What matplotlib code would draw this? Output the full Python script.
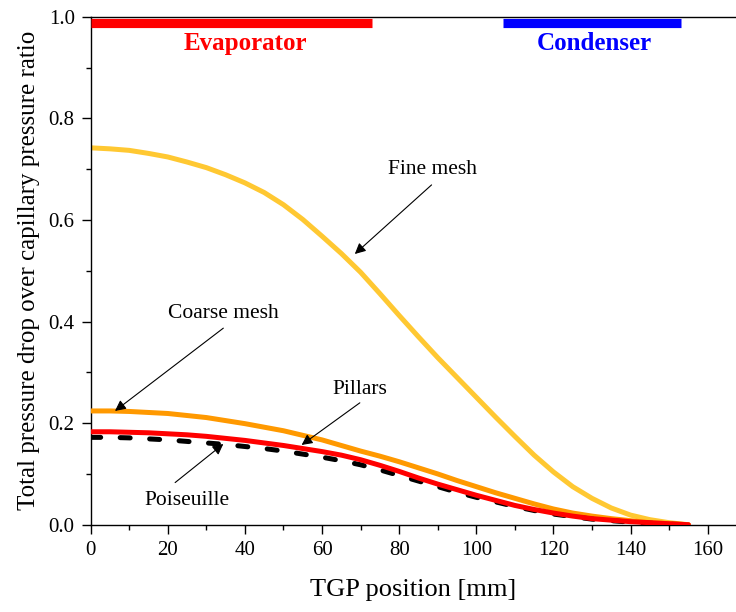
import numpy as np
import matplotlib
matplotlib.use('Agg')
import matplotlib.pyplot as plt

plt.rcParams['font.family'] = ['Liberation Serif', 'DejaVu Serif']

# TGP position [mm]
x = [0, 5, 10, 15, 20, 25, 30, 35, 40, 45, 50, 55, 60, 65, 70, 75, 80,
     85, 90, 95, 100, 105, 110, 115, 120, 125, 130, 135, 140, 145, 150, 155]

fine_mesh = [0.742, 0.740, 0.737, 0.731, 0.724, 0.714, 0.703, 0.689, 0.673, 0.654,
             0.630, 0.601, 0.568, 0.534, 0.497, 0.455, 0.412, 0.370, 0.329, 0.290,
             0.251, 0.212, 0.174, 0.137, 0.104, 0.075, 0.052, 0.033, 0.019, 0.010,
             0.004, 0.0]
coarse_mesh = [0.224, 0.224, 0.223, 0.221, 0.219, 0.215, 0.211, 0.205, 0.199, 0.192,
               0.185, 0.176, 0.167, 0.156, 0.145, 0.135, 0.124, 0.112, 0.100, 0.087,
               0.075, 0.063, 0.052, 0.041, 0.031, 0.023, 0.017, 0.012, 0.008, 0.004,
               0.002, 0.0]
pillars = [0.183, 0.183, 0.182, 0.181, 0.179, 0.177, 0.174, 0.170, 0.166, 0.161,
           0.156, 0.150, 0.144, 0.137, 0.128, 0.117, 0.105, 0.092, 0.080, 0.069,
           0.058, 0.048, 0.038, 0.030, 0.023, 0.017, 0.012, 0.009, 0.006, 0.004,
           0.002, 0.0]
poiseuille = [0.172, 0.172, 0.171, 0.169, 0.167, 0.164, 0.161, 0.158, 0.154, 0.150,
              0.145, 0.139, 0.133, 0.126, 0.118, 0.108, 0.097, 0.086, 0.075, 0.064,
              0.054, 0.045, 0.036, 0.028, 0.021, 0.016, 0.011, 0.008, 0.005, 0.003,
              0.001, 0.0]

evaporator = [0, 73]
condenser = [107, 153]
zone_level = 0.988

fig = plt.figure(figsize=(7.36, 6.12), dpi=100)
ax = fig.add_axes([0.1232, 0.1426, 0.8768, 0.830])

lw = 3.6
ax.plot(x, fine_mesh, color='#ffc832', lw=lw, solid_capstyle='round', zorder=2)
ax.plot(x, coarse_mesh, color='#ff9900', lw=lw, solid_capstyle='round', zorder=3)
ax.plot(x, poiseuille, color='black', lw=lw, linestyle=(0, (2.0, 3.9)),
        dash_capstyle='round', zorder=4)
ax.plot(x, pillars, color='#ff0000', lw=lw, solid_capstyle='round', zorder=5)

# evaporator / condenser zones
ax.plot(evaporator, [zone_level, zone_level], color='#ff0000', lw=6.6,
        solid_capstyle='butt', zorder=6)
ax.plot(condenser, [zone_level, zone_level], color='#0000ff', lw=6.6,
        solid_capstyle='butt', zorder=6)
ax.text(np.mean(evaporator) + 3.6, 0.948, 'Evaporator', color='#ff0000',
        fontsize=18, fontweight='bold', ha='center', va='center')
ax.text(np.mean(condenser) + 0.7, 0.948, 'Condenser', color='#0000ff',
        fontsize=18, fontweight='bold', ha='center', va='center')

arrow = dict(arrowstyle='-|>', color='black', lw=0.8, mutation_scale=16,
             shrinkA=0, shrinkB=0)
ax.text(88.7, 0.700, 'Fine mesh', fontsize=15.5, ha='center', va='center')
ax.annotate('', xy=(68.5, 0.533), xytext=(88.4, 0.669), arrowprops=arrow)
ax.text(34.4, 0.416, 'Coarse mesh', fontsize=15.5, ha='center', va='center')
ax.annotate('', xy=(6.3, 0.224), xytext=(34.4, 0.387), arrowprops=arrow)
ax.text(69.7, 0.267, 'Pillars', fontsize=15.5, ha='center', va='center')
ax.annotate('', xy=(54.7, 0.157), xytext=(69.8, 0.240), arrowprops=arrow)
ax.text(24.9, 0.047, 'Poiseuille', fontsize=15.5, ha='center', va='center')
ax.annotate('', xy=(34.4, 0.159), xytext=(21.9, 0.083), arrowprops=arrow)

ax.set_xlim(0, 167.35)
ax.set_ylim(0, 1.0)
ax.set_xticks(np.arange(0, 161, 20))
ax.set_xticks(np.arange(10, 161, 20), minor=True)
ax.set_yticks(np.arange(0, 1.01, 0.2))
ax.set_yticks(np.arange(0.1, 1.0, 0.2), minor=True)
ax.yaxis.set_major_formatter(matplotlib.ticker.FormatStrFormatter('%.1f'))

ax.spines['right'].set_visible(False)
for s in ['left', 'bottom', 'top']:
    ax.spines[s].set_linewidth(1.0)
ax.tick_params(which='major', direction='out', length=6.5, width=1.0,
               labelsize=15, pad=5)
ax.tick_params(which='minor', direction='out', length=3.5, width=1.0)
ax.tick_params(top=False, right=False, which='both')

ax.set_xlabel('TGP position [mm]', fontsize=19, labelpad=14)
ax.set_ylabel('Total pressure drop over capillary pressure ratio', fontsize=18,
              labelpad=6)

fig.savefig('out.png', dpi=100)
